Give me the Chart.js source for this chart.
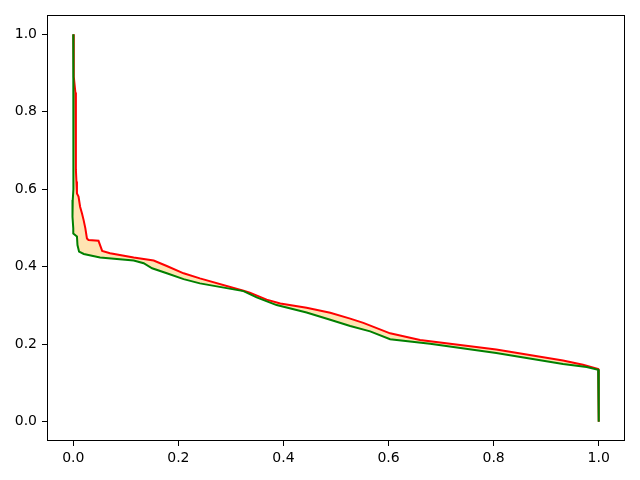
<!DOCTYPE html>
<html>
<head>
<meta charset="utf-8">
<script src="https://cdn.jsdelivr.net/npm/chart.js@4/dist/chart.umd.min.js"></script>
<style>
  body { margin: 0; background: #fff; }
  canvas { display: block; }
</style>
</head>
<body>
<canvas id="chart" width="640" height="480"></canvas>
<script>
// =========================
// データ
// =========================
const redX = [0, 0.001, 0.004, 0.005, 0.005, 0.006, 0.007, 0.010, 0.013, 0.0165, 0.0196, 0.023, 0.026, 0.029,
  0.048, 0.051, 0.055, 0.070, 0.115, 0.153, 0.178, 0.210, 0.241, 0.324, 0.336, 0.368, 0.394, 0.444,
  0.489, 0.527, 0.552, 0.603, 0.660, 0.805, 0.932, 0.970, 0.999, 1.0, 1.0];
const redY = [1.0, 0.89, 0.85, 0.77, 0.65, 0.62, 0.589, 0.581, 0.555, 0.538, 0.521, 0.499, 0.473, 0.469,
  0.467, 0.456, 0.441, 0.435, 0.424, 0.416, 0.402, 0.383, 0.370, 0.338, 0.333, 0.315, 0.305, 0.294,
  0.281, 0.266, 0.255, 0.228, 0.211, 0.186, 0.158, 0.147, 0.136, 0.13, 0.0];

const greenX = [0, 0, 0.001, 0, 0, -0.001, -0.002, -0.001, 0, 0, 0.007, 0.008, 0.011, 0.020, 0.051,
  0.115, 0.134, 0.150, 0.178, 0.210, 0.241, 0.324, 0.349, 0.387, 0.444, 0.489, 0.527, 0.565, 0.603,
  0.679, 0.805, 0.932, 0.977, 0.999, 1.0, 1.0];
const greenY = [1.0, 0.88, 0.80, 0.70, 0.60, 0.572, 0.555, 0.529, 0.499, 0.486, 0.478, 0.456, 0.439, 0.433, 0.424,
  0.416, 0.409, 0.396, 0.383, 0.368, 0.357, 0.337, 0.321, 0.301, 0.282, 0.263, 0.247, 0.233, 0.213,
  0.201, 0.177, 0.149, 0.141, 0.134, 0.13, 0.0];

const xTicks = [0, 0.2, 0.4, 0.6, 0.8, 1.0];
const yTicks = [0, 0.2, 0.4, 0.6, 0.8, 1.0];

// =========================
// 点列を作る
// =========================
const toPoints = (xs, ys) => xs.map((x, i) => ({ x, y: ys[i] }));
const redPts = toPoints(redX, redY);
const greenPts = toPoints(greenX, greenY);
// 赤と緑の間の塗り（赤 → 緑を逆順で閉じる）
const bandPts = redPts.concat(greenPts.slice().reverse());

// 枠線（上・右も含めて四辺）
const framePlugin = {
  id: "frame",
  afterDraw(chart) {
    const { ctx, chartArea: a } = chart;
    ctx.save();
    ctx.strokeStyle = "#000";
    ctx.lineWidth = 1;
    ctx.strokeRect(a.left + 0.5, a.top + 0.5, a.right - a.left - 1, a.bottom - a.top - 1);
    ctx.restore();
  },
};

const tickFont = { family: "'DejaVu Sans', sans-serif", size: 14 };

new Chart(document.getElementById("chart"), {
  type: "line",
  data: {
    datasets: [
      {
        data: greenPts,
        borderColor: "#008000",
        borderWidth: 2,
        pointRadius: 0,
        fill: false,
        order: 1,
      },
      {
        data: redPts,
        borderColor: "#ff0000",
        borderWidth: 2,
        pointRadius: 0,
        fill: false,
        order: 2,
      },
      {
        data: bandPts,
        borderWidth: 0,
        borderColor: "rgba(0,0,0,0)",
        backgroundColor: "rgba(255,165,0,0.3)",
        pointRadius: 0,
        fill: "shape",
        order: 3,
      },
    ],
  },
  options: {
    responsive: false,
    animation: false,
    layout: { padding: { top: 15, right: 15, left: 0, bottom: 0 } },
    plugins: { legend: { display: false }, tooltip: { enabled: false } },
    scales: {
      x: {
        type: "linear",
        min: -0.05,
        max: 1.05,
        afterBuildTicks: (s) => { s.ticks = xTicks.map((v) => ({ value: v })); },
        afterFit: (s) => { s.height = 39; },
        border: { display: false },
        grid: { drawOnChartArea: false, drawTicks: true, tickLength: 5, color: "#000" },
        ticks: { color: "#000", font: tickFont, padding: 4, maxRotation: 0, callback: (v) => v.toFixed(1) },
      },
      y: {
        type: "linear",
        min: -0.05,
        max: 1.05,
        afterBuildTicks: (s) => { s.ticks = yTicks.map((v) => ({ value: v })); },
        afterFit: (s) => { s.width = 47; },
        border: { display: false },
        grid: { drawOnChartArea: false, drawTicks: true, tickLength: 5, color: "#000" },
        ticks: { color: "#000", font: tickFont, padding: 5, callback: (v) => v.toFixed(1) },
      },
    },
  },
  plugins: [framePlugin],
});
</script>
</body>
</html>
